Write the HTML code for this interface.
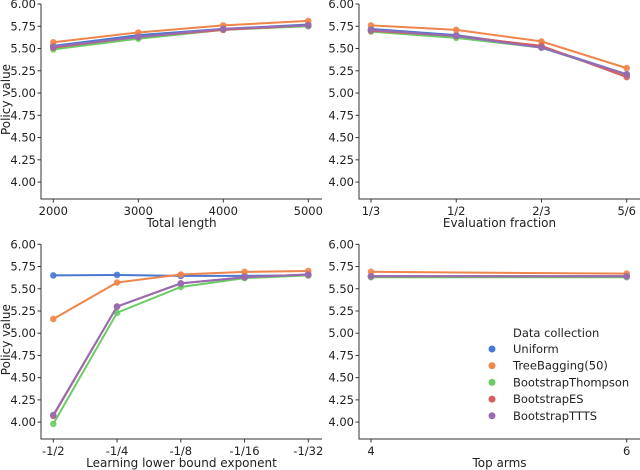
<!DOCTYPE html>
<html><head><meta charset="utf-8">
<style>
html,body{margin:0;padding:0;background:#fff;}
svg{display:block;font-family:"DejaVu Sans","Liberation Sans",sans-serif;}
</style></head>
<body>
<svg id="fig" width="640" height="470" viewBox="0 0 640 470" xmlns="http://www.w3.org/2000/svg"></svg>
<script>
const seriesNames = ["Uniform","TreeBagging(50)","BootstrapThompson","BootstrapES","BootstrapTTTS"];
const seriesColors = ["#4878d0","#ee854a","#6acc64","#d65f5f","#956cb4"];
const yTicks = [4.00,4.25,4.50,4.75,5.00,5.25,5.50,5.75,6.00];

const tlCategories = ["2000","3000","4000","5000"];
const tlUniform = [5.53,5.65,5.72,5.77];
const tlTree = [5.57,5.68,5.76,5.81];
const tlThompson = [5.49,5.61,5.71,5.75];
const tlES = [5.51,5.63,5.71,5.76];
const tlTTTS = [5.52,5.63,5.72,5.76];

const trCategories = ["1/3","1/2","2/3","5/6"];
const trUniform = [5.72,5.65,5.52,5.21];
const trTree = [5.76,5.71,5.58,5.28];
const trThompson = [5.69,5.62,5.51,5.20];
const trES = [5.70,5.64,5.53,5.18];
const trTTTS = [5.71,5.64,5.51,5.21];

const blCategories = ["-1/2","-1/4","-1/8","-1/16","-1/32"];
const blUniform = [5.65,5.655,5.645,5.645,5.65];
const blTree = [5.16,5.57,5.66,5.69,5.70];
const blThompson = [3.98,5.23,5.52,5.62,5.65];
const blES = [4.07,5.30,5.56,5.63,5.66];
const blTTTS = [4.08,5.30,5.56,5.63,5.66];

const brCategories = ["4","6"];
const brUniform = [5.64,5.64];
const brTree = [5.69,5.67];
const brThompson = [5.63,5.63];
const brES = [5.64,5.64];
const brTTTS = [5.64,5.64];

const NS="http://www.w3.org/2000/svg";
const fig=document.getElementById('fig');
function mk(tag,attrs,parent){const e=document.createElementNS(NS,tag);for(const k in attrs)e.setAttribute(k,attrs[k]);(parent||fig).appendChild(e);return e;}

const panels=[
 {name:"total-length",cats:tlCategories,data:[tlUniform,tlTree,tlThompson,tlES,tlTTTS],x0:41,x1:322,c0:53.3,c1:308.3,top:4,bot:199,xlabel:"Total length",ylabel:true},
 {name:"evaluation-fraction",cats:trCategories,data:[trUniform,trTree,trThompson,trES,trTTTS],x0:359,x1:640,c0:371,c1:626.7,top:4,bot:199,xlabel:"Evaluation fraction",ylabel:false},
 {name:"lower-bound",cats:blCategories,data:[blUniform,blTree,blThompson,blES,blTTTS],x0:41,x1:322,c0:53.3,c1:308.3,top:244.3,bot:439,xlabel:"Learning lower bound exponent",ylabel:true},
 {name:"top-arms",cats:brCategories,data:[brUniform,brTree,brThompson,brES,brTTTS],x0:359,x1:640,c0:371,c1:626.7,top:244.3,bot:439,xlabel:"Top arms",ylabel:false}
];
const yMin=3.81,yMax=6.0;
panels.forEach(p=>{
  const g=mk('g',{});
  
  
  const y=v=>p.bot-(v-yMin)/(yMax-yMin)*(p.bot-p.top);
  const n=p.cats.length;
  const x=i=>p.c0+(n>1?i*(p.c1-p.c0)/(n-1):0);
  const sp=mk('path',{d:`M${p.x0} ${p.top}V${p.bot}H${p.x1}`,stroke:'#333',fill:'none','stroke-width':1},g);
  
  
  yTicks.forEach(t=>{
    const yy=y(t);
    mk('line',{x1:p.x0-3.5,x2:p.x0,y1:yy,y2:yy,stroke:'#333'},g);
    const tx=mk('text',{x:p.x0-5,y:yy+4,'text-anchor':'end','font-size':11.5,fill:'#222'},g);
    tx.textContent=t.toFixed(2);
    
    
  });
  p.cats.forEach((c,i)=>{
    mk('line',{x1:x(i),x2:x(i),y1:p.bot,y2:p.bot+3.5,stroke:'#333'},g);
    const tx=mk('text',{x:x(i),y:p.bot+16,'text-anchor':'middle','font-size':11.5,fill:'#222'},g);
    tx.textContent=c;
    
    
  });
  const xl=mk('text',{x:(p.x0+p.x1)/2,y:p.bot+28,'text-anchor':'middle','font-size':12,fill:'#222'},g);
  xl.textContent=p.xlabel;
  
  
  if(p.ylabel){
    const cy=(p.top+p.bot)/2-2;
    const yl=mk('text',{x:10,y:cy,'text-anchor':'middle','font-size':12,fill:'#222',transform:`rotate(-90 10 ${cy})`},g);
    yl.textContent="Policy value";
    
    
  }
  p.data.forEach((vals,s)=>{
    const col=seriesColors[s];
    const pts=vals.map((v,i)=>x(i)+','+y(v)).join(' ');
    const pl=mk('polyline',{points:pts,fill:'none',stroke:col,'stroke-width':2},g);
    
    
    vals.forEach((v,i)=>{
      const c=mk('circle',{cx:x(i),cy:y(v),r:3.3,fill:col,'fill-opacity':0.9},g);
      
      
    });
  });
});
const lg=mk('g',{});


const lt=mk('text',{x:513,y:337,'font-size':11.5,fill:'#222'},lg);
lt.textContent="Data collection";


seriesNames.forEach((nm,i)=>{
  const yy=349+i*16.7;
  const c=mk('circle',{cx:492,cy:yy,r:3.5,fill:seriesColors[i]},lg);
  
  
  const t=mk('text',{x:513,y:yy+4,'font-size':11.5,fill:'#222'},lg);
  t.textContent=nm;
  
  
});
</script>
</body></html>
